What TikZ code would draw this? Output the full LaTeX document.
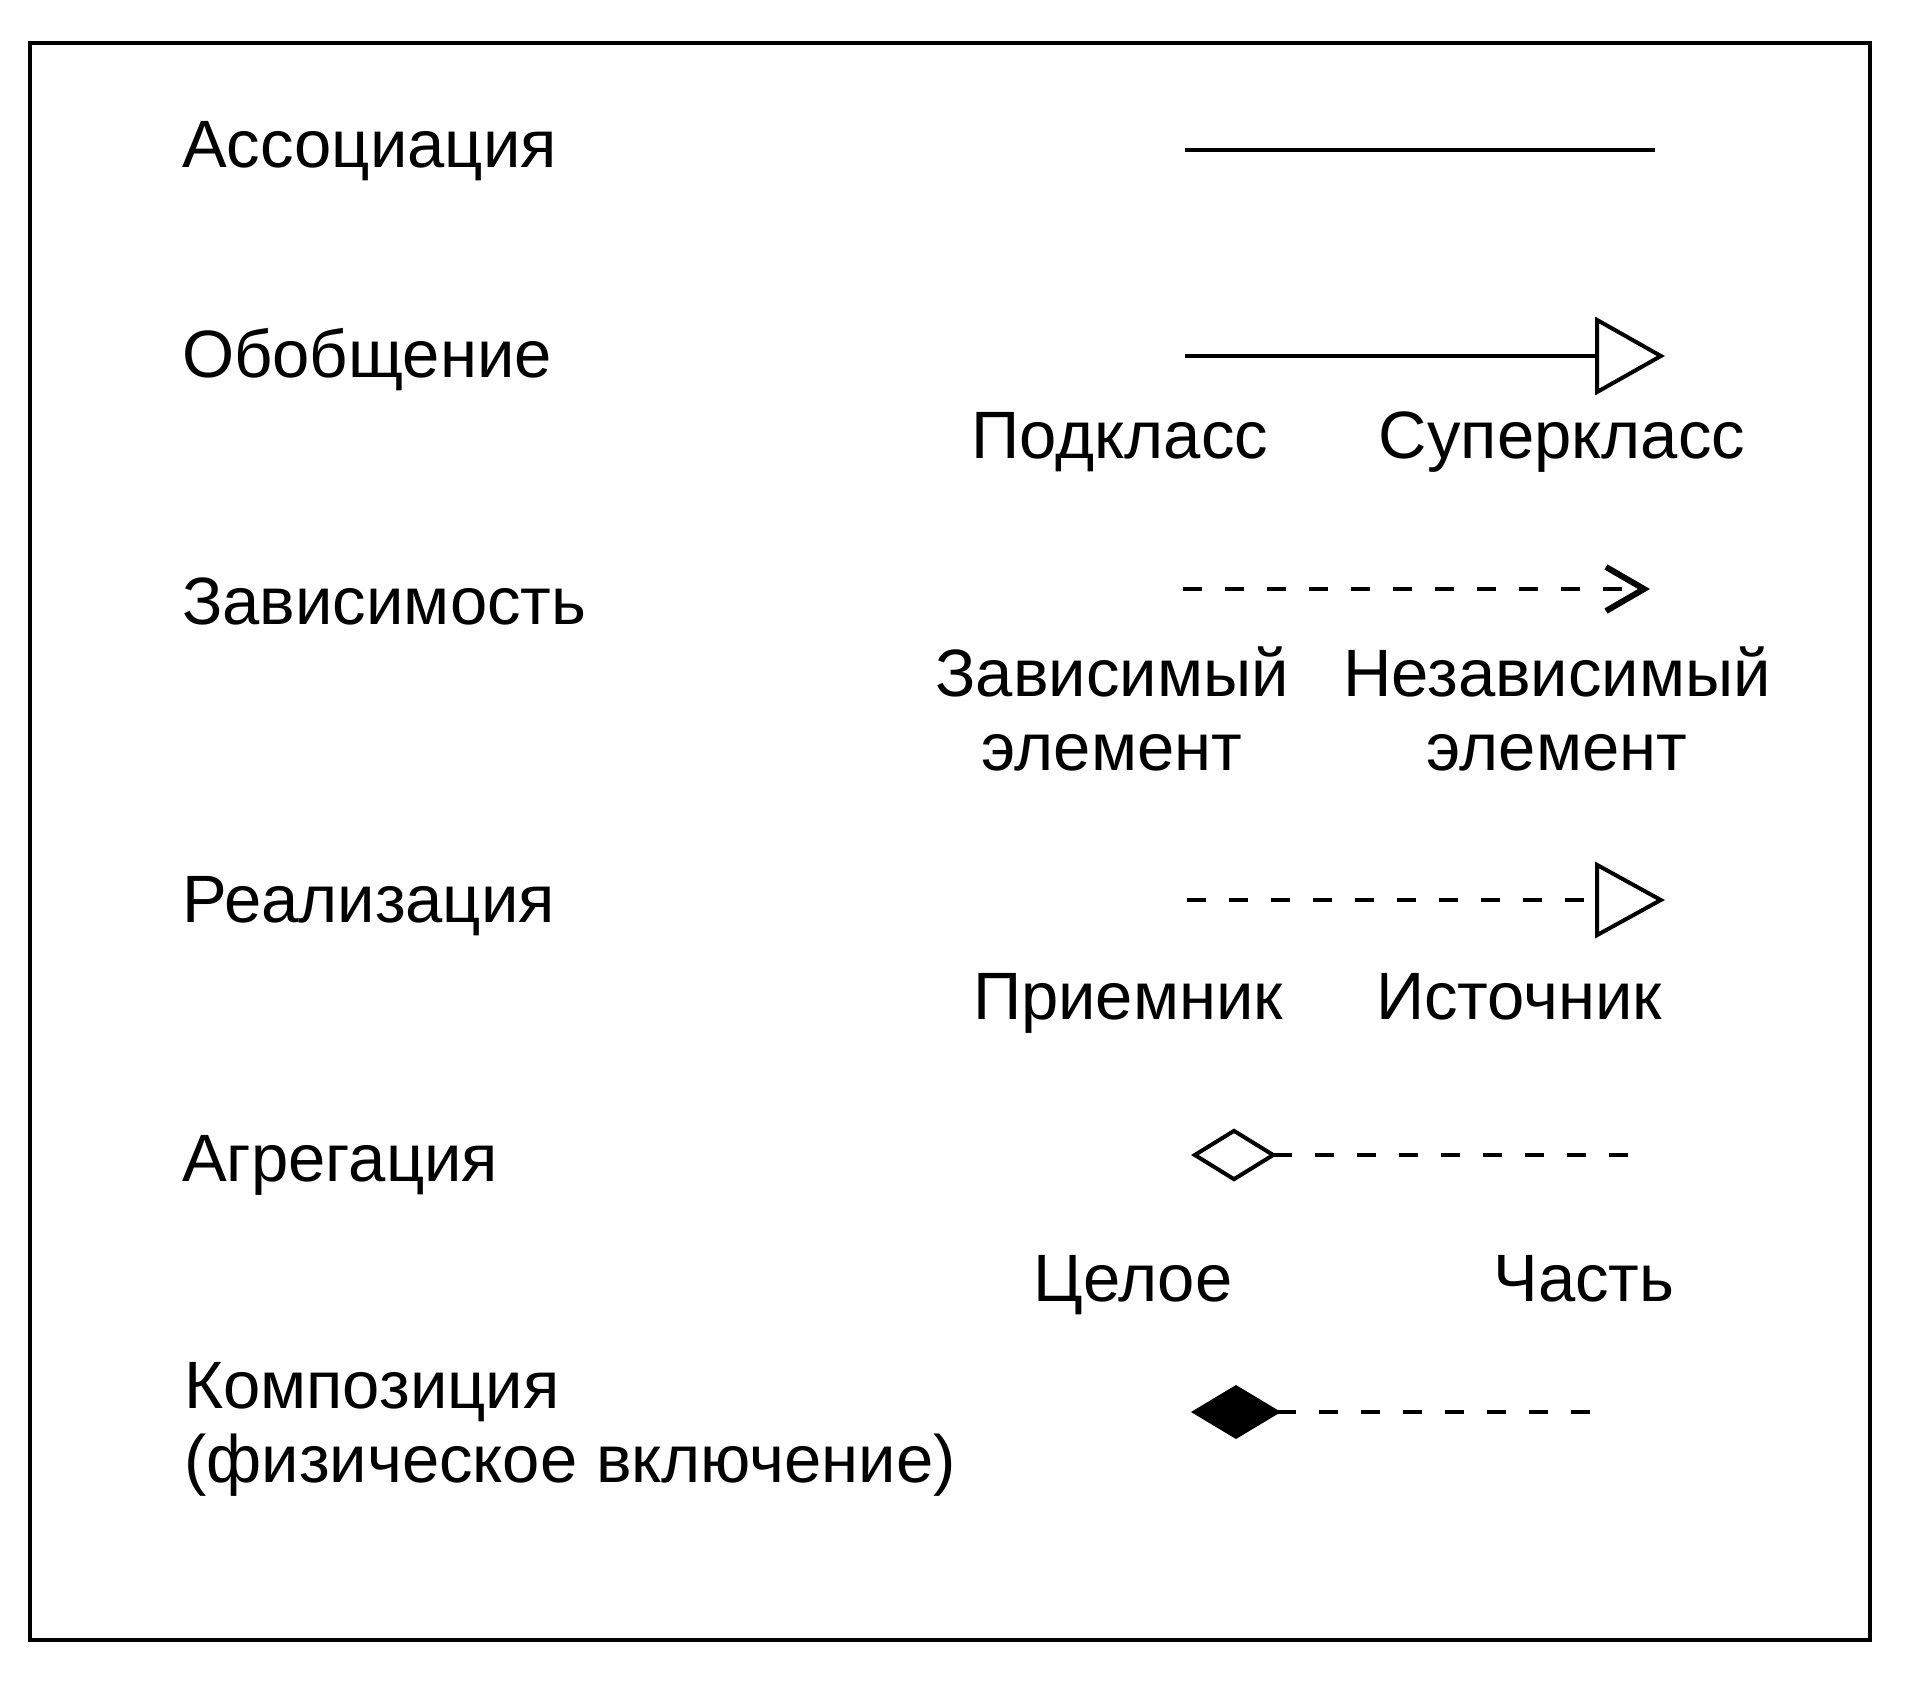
\documentclass[tikz,border=0pt]{standalone}
\usepackage{fontspec}
\setmainfont{Liberation Sans}
\usetikzlibrary{arrows.meta}
\tikzset{
  kind/.style={anchor=base west, inner sep=0pt, font=\fontsize{67pt}{74pt}\selectfont},
  role/.style={anchor=base, inner sep=0pt, align=center, font=\fontsize{67pt}{74pt}\selectfont},
  uml/.style={line width=4pt},
  dep/.style={uml, dash pattern=on 19pt off 23pt},
}
\begin{document}
\begin{tikzpicture}[x=1pt, y=-1pt]
	\useasboundingbox (0,0) rectangle (1925,1694);
	\draw[line width=4pt] (30,43) rectangle (1870,1640);

	% left column
	\def\kinds {assoc/167/Ассоциация, gen/377/Обобщение, dpd/624/Зависимость, real/922/Реализация, aggr/1181/Агрегация}
	\foreach \n/\y/\t in \kinds
	{	\node[kind] (\n) at (182,\y) {\t};
	}
	\node[kind, align=left] (comp) at (184,1482) {Композиция\\(физическое включение)};

	% ends of the connectors
	\coordinate (assocA) at (1185,150);  \coordinate (assocB) at (1655,150);
	\coordinate (genA)   at (1185,356);  \coordinate (genB)   at (1665,356);
	\coordinate (dpdA)   at (1183,589);  \coordinate (dpdB)   at (1650,589);
	\coordinate (realA)  at (1187,900);  \coordinate (realB)  at (1665,900);
	\coordinate (aggrA)  at (1191,1155); \coordinate (aggrB)  at (1634,1155);
	\coordinate (compA)  at (1191,1412); \coordinate (compB)  at (1596,1412);

	\draw[uml] (assocA) -- (assocB);
	\draw[uml, -{Triangle[open, length=70pt, width=78pt]}] (genA) -- (genB);
	\draw[dep, -{Straight Barb[length=38pt, width=44pt, line width=6pt]}] (dpdA) -- (dpdB);
	\draw[dep, -{Triangle[open, length=70pt, width=76pt]}] (realA) -- (realB);
	\draw[dep, {Diamond[open, length=86pt, width=53pt]}-] (aggrA) -- (aggrB);
	\draw[dep, {Diamond[length=90pt, width=54pt]}-] (compA) -- (compB);

	% names of the ends
	\def\roles {sub/1120/458/Подкласс, super/1562/458/Суперкласс, recv/1128/1019/Приемник, src/1519/1019/Источник, whole/1133/1301/Целое, part/1584/1301/Часть}
	\foreach \n/\x/\y/\t in \roles
	{	\node[role] (\n) at (\x,\y) {\t};
	}
	\node[role] (dpdel) at (1112,770) {Зависимый\\элемент};
	\node[role] (indel) at (1557,770) {Независимый\\элемент};
\end{tikzpicture}
\end{document}
